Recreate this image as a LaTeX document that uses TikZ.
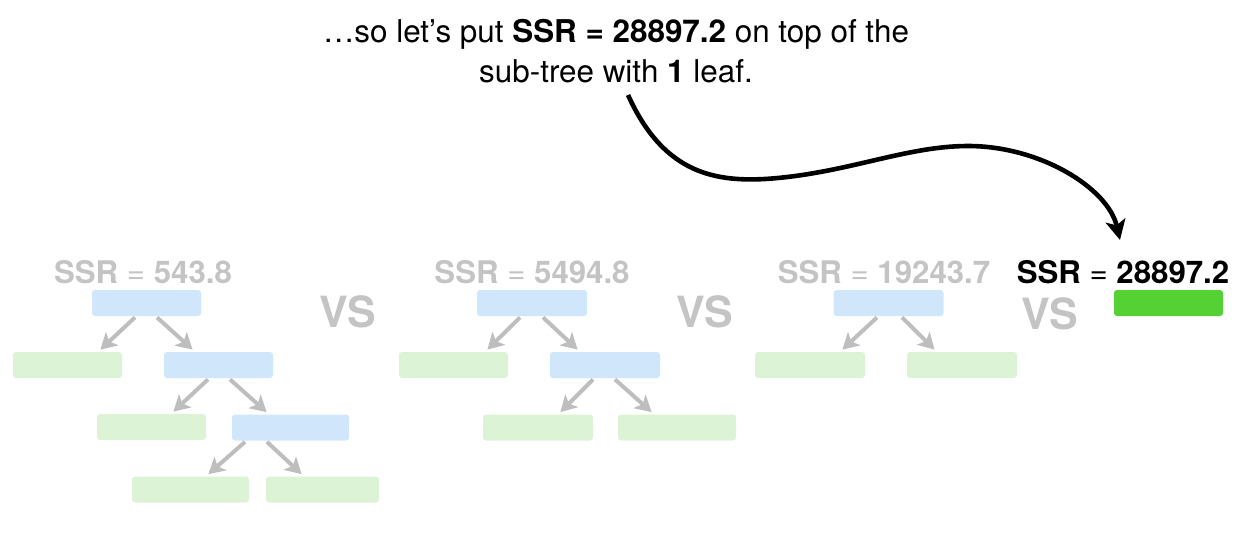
\documentclass[tikz,border=0pt]{standalone}
\usepackage{fontspec}
\setmainfont{TeX Gyre Heros}
\usetikzlibrary{arrows.meta,calc}
\definecolor{txtgray}{RGB}{196,196,196}
\definecolor{arrgray}{RGB}{190,190,190}
\definecolor{boxblue}{RGB}{208,230,251}
\definecolor{boxgreen}{RGB}{221,243,214}
\definecolor{brightgreen}{RGB}{85,209,51}
\tikzset{
  bbox/.style={rectangle, rounded corners=1.5pt, fill=boxblue, minimum width=54.5pt, minimum height=13pt, inner sep=0pt},
  gbox/.style={rectangle, rounded corners=1.5pt, fill=boxgreen, minimum width=54.5pt, minimum height=13pt, inner sep=0pt},
  ssr/.style={text=txtgray, font=\fontsize{15.6}{18}\selectfont, inner sep=0pt},
  vs/.style={text=txtgray, font=\fontsize{21.5}{24}\selectfont\bfseries, inner sep=0pt},
  garr/.style={draw=arrgray, line width=2pt, -{Stealth[length=8pt,width=9pt,inset=2pt]}},
}
% \garrow{parent}{start x offset}{child}{child anchor}{tip x offset}
\newcommand{\garrow}[5]{\draw[garr] ($(#1.south)+(#2,1)$) -- ($(#3.#4)+(#5,-2)$);}
\newcommand{\ssrtext}[1]{\textbf{SSR} = \textbf{#1}}
\begin{document}
\begin{tikzpicture}[x=0.5pt,y=-0.5pt]
\useasboundingbox (0,0) rectangle (1241,536);
% top text
\node[align=center, font=\fontsize{15.7}{20}\selectfont, inner sep=0pt, anchor=north] (top) at (616,19)
  {…so let’s put \textbf{SSR = 28897.2} on top of the\\ sub-tree with \textbf{1} leaf.};
% tree 1
\node[ssr] (s1) at (143,272) {\ssrtext{543.8}};
\node[bbox] (a1) at (146.5,303) {};
\node[gbox] (a2) at (67.5,365) {};
\node[bbox] (a3) at (218.5,365) {};
\node[gbox] (a4) at (151.5,427) {};
\node[bbox, minimum width=58.5pt] (a5) at (290.5,427.5) {};
\node[gbox, minimum width=58.5pt] (a6) at (190.5,489.5) {};
\node[gbox, minimum width=56.5pt] (a7) at (322.5,489.5) {};
\garrow{a1}{-11.5}{a2}{north east}{-22}
\garrow{a1}{10.5}{a3}{north west}{29}
\garrow{a3}{-10.5}{a4}{north east}{-33}
\garrow{a3}{11.5}{a5}{north west}{35}
\garrow{a5}{-45.5}{a6}{north east}{-41}
\garrow{a5}{-23.5}{a7}{north west}{36}
\node[vs] (v1) at (348,312) {VS};
% tree 2
\node[ssr] (s2) at (532,272) {\ssrtext{5494.8}};
\node[bbox, minimum width=55pt] (b1) at (532,303) {};
\node[gbox] (b2) at (453.5,365) {};
\node[bbox, minimum width=55pt] (b3) at (605,365) {};
\node[gbox, minimum width=55pt] (b4) at (538,427.5) {};
\node[gbox, minimum width=59pt] (b5) at (677,427.5) {};
\garrow{b1}{-12}{b2}{north east}{-21}
\garrow{b1}{11}{b3}{north west}{28}
\garrow{b3}{-12}{b4}{north east}{-33}
\garrow{b3}{10}{b5}{north west}{34}
\node[vs] (v2) at (705,312) {VS};
% tree 3
\node[ssr] (s3) at (884,272) {\ssrtext{19243.7}};
\node[bbox, minimum width=55pt] (c1) at (888.5,303) {};
\node[gbox, minimum width=55pt] (c2) at (810,365) {};
\node[gbox, minimum width=55pt] (c3) at (962,365) {};
\garrow{c1}{-11.5}{c2}{north east}{-23}
\garrow{c1}{13.5}{c3}{north west}{28}
\node[vs] (v3) at (1050,314) {VS};
% final
\node[font=\fontsize{15.6}{18}\selectfont, inner sep=0pt] (s4) at (1123,272) {\ssrtext{28897.2}};
\node[rectangle, rounded corners=1.5pt, fill=brightgreen, minimum width=54.5pt, minimum height=13pt, inner sep=0pt] (d1) at (1168.5,303) {};
% curved arrow
\coordinate (cs) at (628,95);
\coordinate (ce) at (1120,240);
\draw[line width=2.3pt, -{Stealth[length=10pt,width=10pt,inset=2.5pt]}]
  (cs) .. controls (662,170) and (710,182) .. (765,179)
       .. controls (845,174) and (905,146) .. (968,146)
       .. controls (1040,146) and (1108,188) .. (ce);
\end{tikzpicture}
\end{document}
